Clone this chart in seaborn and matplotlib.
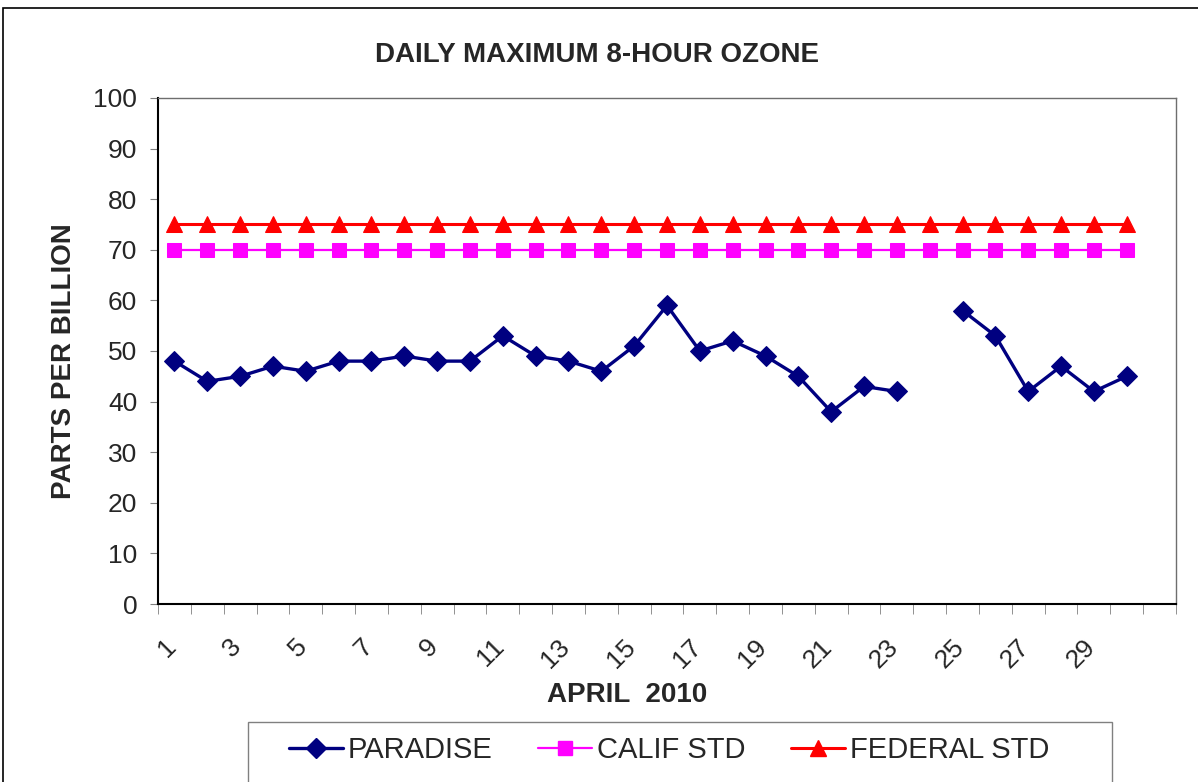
import numpy as np
import pandas as pd
import matplotlib
matplotlib.use("Agg")
import matplotlib.pyplot as plt
import matplotlib.transforms as mtransforms
from matplotlib.lines import Line2D
from matplotlib.patches import Rectangle
import seaborn as sns

# April 2010, day 24 missing
days = list(range(1, 31))
paradise = [48, 44, 45, 47, 46, 48, 48, 49, 48, 48,
            53, 49, 48, 46, 51, 59, 50, 52, 49, 45,
            38, 43, 42, np.nan, 58, 53, 42, 47, 42, 45]
calif_std = [70] * 30
federal_std = [75] * 30
tick_days = list(range(1, 30, 2))

df = pd.DataFrame({"day": days, "PARADISE": paradise,
                   "CALIF STD": calif_std, "FEDERAL STD": federal_std})
# break the PARADISE line at the missing day
df["segment"] = (df["PARADISE"].isna()).cumsum()
par = df.dropna(subset=["PARADISE"])

sns.set_style("white")
plt.rcParams["font.family"] = ["Liberation Sans", "DejaVu Sans"]

fig = plt.figure(figsize=(11.98, 7.82), dpi=100)
ax = fig.add_axes([158/1198, 1-604/782, (1176-158)/1198, (604-98)/782])

sns.lineplot(data=df, x="day", y="FEDERAL STD", ax=ax, color="#FF0000",
             marker="^", markersize=11, markeredgecolor="#FF0000",
             linewidth=2.2, legend=False)
sns.lineplot(data=df, x="day", y="CALIF STD", ax=ax, color="#FF00FF",
             marker="s", markersize=10.5, markeredgecolor="#FF00FF",
             linewidth=1.6, legend=False)
sns.lineplot(data=par, x="day", y="PARADISE", units="segment", estimator=None,
             ax=ax, color="#000080", marker="D", markersize=10,
             markeredgecolor="#000080", linewidth=2.4, legend=False)

ax.set_xlim(0.5, 31.5)
ax.set_ylim(0, 100)
ax.set_yticks(range(0, 101, 10))
ax.tick_params(axis="y", labelsize=19, length=6, color="#808080", pad=9, direction="out", left=True)
ax.set_xticks(tick_days)
ax.set_xticks(np.arange(0.5, 32, 1), minor=True)
ax.tick_params(axis="x", which="major", labelsize=19, length=0, pad=22)
ax.tick_params(axis="x", which="minor", length=7, color="#808080", direction="out", bottom=True)
ax.set_xticklabels([str(d) for d in tick_days], rotation=45, ha="right", va="top")
shift = mtransforms.ScaledTranslation(6/100, 0, fig.dpi_scale_trans)
for lab in ax.get_xticklabels():
    lab.set_transform(lab.get_transform() + shift)

for s in ["left", "bottom"]:
    ax.spines[s].set_color("black")
    ax.spines[s].set_linewidth(1.5)
for s in ["top", "right"]:
    ax.spines[s].set_color("#6e6e6e")
    ax.spines[s].set_linewidth(1)

ax.set_ylabel("PARTS PER BILLION", fontsize=20, fontweight="bold")
ax.yaxis.set_label_coords(-0.08, 0.48)
ax.set_xlabel("APRIL  2010", fontsize=20, fontweight="bold", va="top")
ax.xaxis.set_label_coords(0.461, -0.154)

fig.text(0.498, 1-55/782, "DAILY MAXIMUM 8-HOUR OZONE", ha="center", va="center",
         fontsize=20, fontweight="bold")

# legend
handles = [
    Line2D([], [], color="#000080", marker="D", markersize=10, linewidth=2.4),
    Line2D([], [], color="#FF00FF", marker="s", markersize=10.5, linewidth=1.6),
    Line2D([], [], color="#FF0000", marker="^", markersize=11, linewidth=2.2),
]
fig.legend(handles, ["PARADISE", "CALIF STD", "FEDERAL STD"], loc="center",
           bbox_to_anchor=(669/1198, 1-750/782), ncol=3, frameon=False,
           fontsize=21, handlelength=1.85, handletextpad=0.17, columnspacing=1.55)
fig.patches.append(Rectangle((248/1198, -0.05), (1112-248)/1198, 0.05+1-722/782,
                             transform=fig.transFigure, fill=False,
                             edgecolor="#808080", linewidth=1))
# outer chart border
fig.patches.append(Rectangle((3/1198, -0.05), 1.1, 0.05+1-8/782,
                             transform=fig.transFigure, fill=False,
                             edgecolor="black", linewidth=1.2))

fig.savefig("out.png", dpi=100)
